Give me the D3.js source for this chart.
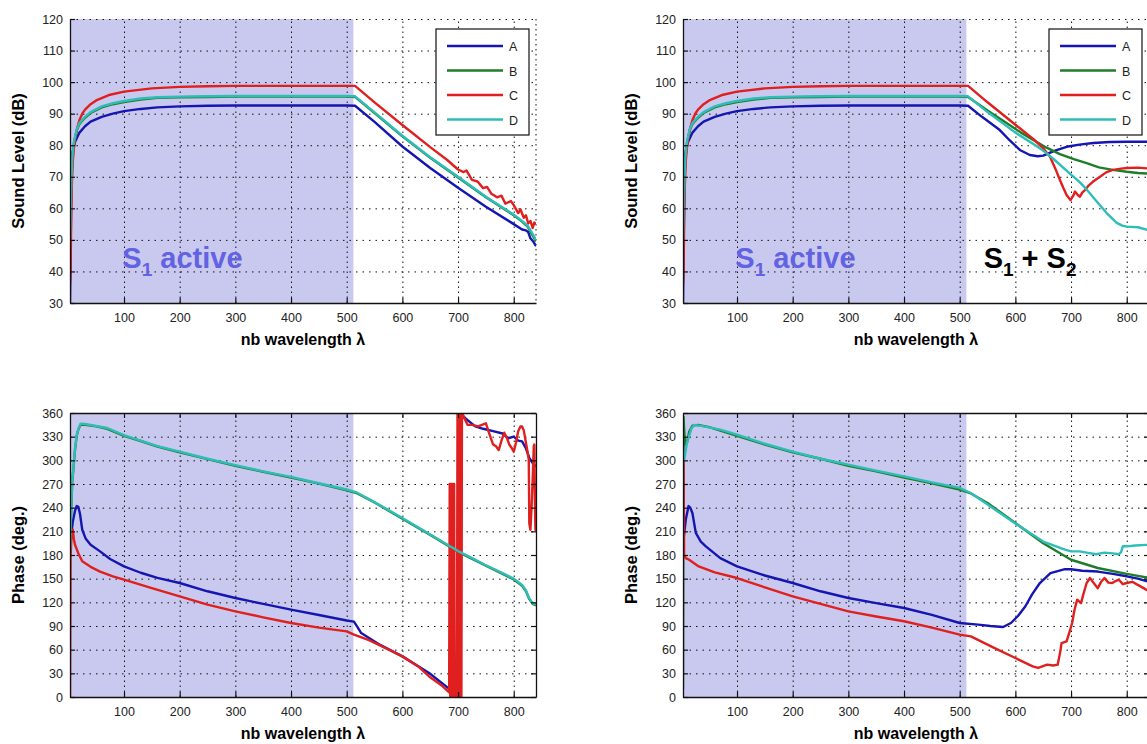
<!DOCTYPE html>
<html>
<head>
<meta charset="utf-8">
<script src="https://cdn.jsdelivr.net/npm/d3@7"></script>
<style>
body{margin:0;background:#fff;}
text{font-family:Arial,"Liberation Sans",sans-serif;}
</style>
</head>
<body>
<div id="chart-area"></div>
<script>
// FOUR PANELS: SOUND LEVEL + PHASE, S1 ALONE vs S1+S2

//---------DATA--------------------
let seriesNames=["A","B","C","D"];
let seriesColors=["#1515b2","#1f7d2a","#e01f1f","#2fbdb9"];
let xTicks=[100,200,300,400,500,600,700,800];
let levelTicks=[30,40,50,60,70,80,90,100,110,120];
let phaseTicks=[0,30,60,90,120,150,180,210,240,270,300,330,360];
let xDomain=[3,840];
let shadeEnd=512;

// sound level, S1 active then switched off
let levelA_1=[[3,30],[4,45],[5,62],[6,72],[8,78],[12,81],[20,84],[30,86],[40,87.5],[60,89],[80,90],[100,90.8],[130,91.5],[160,92],[200,92.3],[250,92.5],[300,92.6],[400,92.6],[500,92.6],[515,92.5],[550,87.4],[600,79.6],[650,72.8],[700,66.5],[750,60.5],[800,55],[815,53.3],[822,53],[826,52.5],[830,50.5],[835,49.5],[840,48]];
let levelB_1=[[3,48],[4,57],[5,65],[7,75],[10,80.5],[15,84.7],[20,86.7],[30,88.7],[40,90.2],[60,92],[80,93],[100,93.7],[130,94.5],[160,95],[200,95.2],[250,95.3],[300,95.4],[500,95.4],[515,95.3],[550,90.2],[600,82.8],[650,76],[700,69.8],[750,63.5],[800,57.8],[815,55.8],[825,54.2],[832,52],[840,49.5]];
let levelC_1=[[3,36],[4,40],[5,55],[6,66],[8,75],[10,79],[12,82],[16,85.5],[20,88],[25,90],[30,91.3],[40,93],[50,94.2],[75,96],[100,97],[150,98],[200,98.5],[250,98.7],[300,98.8],[500,98.8],[515,98.8],[550,93.6],[600,86.4],[650,79.4],[680,75.4],[700,72.3],[710,71.5],[715,72],[725,69],[735,68.5],[745,66.4],[752,66.8],[760,64.6],[770,63.5],[778,64],[785,61.5],[795,62.3],[800,61],[808,58.5],[812,59.7],[818,57],[822,57.8],[826,55.2],[830,56],[834,53.8],[837,55.5],[840,55]];
let levelD_1=[[3,50],[4,58],[5,66],[7,76],[10,81],[15,85],[20,87],[30,89],[40,90.5],[60,92.3],[80,93.3],[100,94],[130,94.8],[160,95.2],[200,95.4],[250,95.5],[300,95.6],[500,95.6],[515,95.5],[550,90.4],[600,83],[650,76.2],[700,70],[750,63.7],[800,58],[815,56],[825,54.5],[832,52.5],[840,50]];

// sound level after S2 switched on (x > 512)
let levelA_12=[[540,89],[572,84.8],[590,81.5],[608,78.5],[626,76.9],[640,76.5],[650,76.7],[670,78.2],[692,79.5],[715,80.2],[740,80.7],[770,81],[800,81.1],[840,81.1]];
let levelB_12=[[550,91],[580,87.5],[610,84],[632,81.7],[655,79.3],[680,77.2],[705,75.6],[728,74.3],[750,73],[775,72.2],[800,71.6],[820,71.2],[840,71]];
let levelC_12=[[550,93.6],[600,86.5],[632,82],[650,79],[662,76.4],[672,72.5],[680,69],[686,66.5],[692,64.2],[699,62.6],[704,64],[707,65.3],[712,64.2],[716,63.7],[720,65],[725,65.8],[732,67.3],[739,68.4],[752,70],[763,71.4],[775,72.2],[790,72.6],[800,72.8],[820,72.9],[840,72.6]];
let levelD_12=[[550,90.5],[600,84],[640,79.5],[656,77.5],[670,75.4],[698,71],[715,68.4],[728,66],[745,62.4],[764,58.5],[782,55.4],[792,54.5],[800,54.2],[820,54],[840,53]];

// phase, S1 only
let phaseA_1=[[4,200],[8,222],[12,236],[15,242],[18,241],[21,232],[25,212],[31,201],[40,193],[57,184.6],[75,175],[100,165.6],[130,157.5],[160,151],[200,144.5],[250,134],[300,125.5],[350,118],[400,110.7],[450,104],[500,97],[513,95.5],[520,88],[526,81],[560,66],[600,51.5],[648,30.4],[686,9.3],[696,3],[699,0],[700,230],[702,360],[704,360],[715,352],[731,343],[745,340],[763,337],[780,334],[790,328],[800,330],[808,325],[815,324],[822,315],[828,303],[834,296.6],[840,292]];
let phaseB_1=[[3,180],[5,232],[7,272],[9,288],[12,313],[15,331],[18,339],[22,345.5],[30,345],[50,343],[70,340],[100,331],[130,324.5],[160,317.5],[200,310],[250,301.5],[300,293],[350,285.5],[400,278],[450,270.5],[500,262],[519,258],[550,246.5],[600,226],[650,205.5],[700,184],[720,177],[750,166.5],[780,156],[800,149],[815,141],[822,134],[828,124],[834,118],[840,116]];
let phaseC_1=[[3,0],[4,178],[6,208],[8,212],[10,200],[12,193],[18,182],[25,172],[40,165],[57,159],[80,153],[100,148.7],[150,138],[200,127.6],[250,117],[300,108.6],[350,101],[400,93.8],[450,88],[500,83.2],[513,79],[540,72],[570,62],[600,51.5],[630,38],[648,26],[670,15],[684,6],[685,270],[686,0],[687,270],[688,0],[689,270],[690,0],[691,270],[692,0],[693,270],[694,0],[698,0],[699,360],[700,0],[701,360],[702,0],[703,360],[704,0],[705,360],[706,0],[707,360],[717,345],[725,345],[736,343],[743,345],[750,347],[757,332],[763,320],[768,318],[773,313],[778,325],[783,335],[788,328],[792,320],[796,316],[800,311],[804,322],[808,337],[812,343],[815,343],[818,338],[821,326],[825,310],[827,301],[828,220],[830,212],[832,240],[834,275],[836,318],[837,320],[838,250],[839,212],[840,212]];
let phaseD_1=[[3,185],[5,237],[7,275],[9,290],[12,315],[15,332],[18,340],[22,346.5],[30,346],[50,343.5],[70,341],[100,332],[130,325],[160,318],[200,311],[250,302],[300,294],[350,286],[400,279],[450,271],[500,263],[519,259],[550,247],[600,227],[650,206],[700,185],[720,178],[750,167],[780,157],[800,150],[815,142],[822,135],[828,125],[834,119],[840,117]];

// phase, S1 + S2
let phaseA_12=[[4,200],[8,225],[13,242],[16,240],[20,233],[26,208],[35,197],[44,191],[70,176],[100,165.6],[150,154],[200,144.5],[250,134],[300,125.5],[350,119],[400,112.8],[450,104],[500,93.8],[533,91.7],[555,90],[578,88.7],[592,93.8],[605,103],[618,115],[630,130],[644,144.5],[663,157],[689,162],[700,162],[720,160],[748,159],[775,156],[800,153],[820,150],[840,146]];
let phaseB_12=[[3,10],[4,355],[5,340],[7,320],[10,322],[14,336],[20,344],[30,345],[50,342],[100,331],[150,320],[200,310],[250,302],[300,293],[350,286],[400,278],[450,271],[500,263],[520,258],[550,246],[600,220.5],[650,195],[700,174],[748,163.5],[800,156],[820,153.5],[840,151]];
let phaseC_12=[[3,310],[4,290],[5,180],[8,176],[14,174],[30,166],[60,158],[100,150.8],[150,139],[200,127.6],[250,118],[300,108.6],[350,102],[400,96],[450,88],[500,79],[520,76.9],[560,63],[600,49.4],[631,38.9],[641,36.8],[657,41],[668,40],[676,41],[680,55],[683,68.4],[692,70.6],[697,82],[702,93.8],[706,110],[711,123.4],[718,119],[722,130],[728,144.5],[734,150.8],[740,145],[748,138],[754,146],[760,150.8],[767,145],[774,144.5],[780,147],[786,148.7],[793,143],[800,144.5],[810,146],[819,142.4],[828,139],[840,134]];
let phaseD_12=[[5,300],[7,309],[10,322],[13.6,330],[18,340],[23,345],[40,343],[70,339],[100,332.5],[150,321],[200,311],[250,302],[300,294.5],[350,287],[400,279.7],[450,272],[500,265],[520,258.6],[550,244],[600,220],[650,197],[689,186.8],[700,184.6],[715,184.6],[728,183],[745,181],[760,183],[775,182],[786,181],[790,184],[793,191],[800,191],[815,192],[840,193]];

function joinAt512(head,tail){
	return head.filter(d=>d[0]<=515).concat(tail);
}

//---------LAYOUT------------------
let width=466;
let height=284;

let panels=[
	{left:70,top:19,domain:[30,120],ticks:levelTicks,label:"Sound Level (dB)",box:false,legend:true,
		series:[levelA_1,levelB_1,levelC_1,levelD_1],notes:["s1"]},
	{left:683,top:19,domain:[30,120],ticks:levelTicks,label:"Sound Level (dB)",box:false,legend:true,
		series:[joinAt512(levelA_1,levelA_12),joinAt512(levelB_1,levelB_12),joinAt512(levelC_1,levelC_12),joinAt512(levelD_1,levelD_12)],notes:["s1","s12"]},
	{left:70,top:413,domain:[0,360],ticks:phaseTicks,label:"Phase (deg.)",box:true,legend:false,
		series:[phaseA_1,phaseB_1,phaseC_1,phaseD_1],notes:[]},
	{left:683,top:413,domain:[0,360],ticks:phaseTicks,label:"Phase (deg.)",box:true,legend:false,
		series:[phaseA_12,phaseB_12,phaseC_12,phaseD_12],notes:[]}
];

let svg=d3.select("#chart-area").append('svg')
	.attr('width',1147)
	.attr('height',744);

svg.append('rect').attr('width',1147).attr('height',744).attr('fill','#fff');

panels.forEach(function(p,i){
	let g=svg.append('g')
		.attr("transform","translate("+p.left+", "+p.top+")");

	let x=d3.scaleLinear().domain(xDomain).range([0,width]);
	let y=d3.scaleLinear().domain(p.domain).range([height,0]);

	g.append('clipPath').attr('id','clip'+i)
		.append('rect').attr('width',width).attr('height',height);

	//----shaded S1 zone----
	g.append('rect')
		.attr('x',x(xDomain[0]))
		.attr('width',x(shadeEnd)-x(xDomain[0]))
		.attr('height',height)
		.attr('fill','#c9c9ef');

	//----dotted grid----
	let xGrid=g.append('g')
		.attr("transform","translate(0,"+height+")")
		.call(d3.axisBottom(x).tickValues(xTicks).tickSize(-height).tickSizeOuter(0).tickFormat(''));
	xGrid.select('.domain').remove();
	xGrid.selectAll('line').attr('stroke','#111').attr('stroke-dasharray','1.5,3.5');

	let yGrid=g.append('g')
		.call(d3.axisLeft(y).tickValues(p.ticks).tickSize(-width).tickSizeOuter(0).tickFormat(''));
	yGrid.select('.domain').remove();
	yGrid.selectAll('line').attr('stroke','#111').attr('stroke-dasharray','1.5,5');

	if(!p.box){
		g.append('line')
			.attr('x1',width).attr('x2',width)
			.attr('y1',0).attr('y2',height)
			.attr('stroke','#111').attr('stroke-dasharray','1.5,3.5');
	}

	//----curves----
	let line=d3.line().x(d=>x(d[0])).y(d=>y(d[1]));
	let lines=g.append('g').attr('clip-path','url(#clip'+i+')');
	p.series.forEach(function(s,k){
		lines.append('path')
			.attr('d',line(s))
			.attr('fill','none')
			.attr('stroke',seriesColors[k])
			.attr('stroke-width',2.4)
			.attr('stroke-linejoin','round');
	});

	//----axes----
	let xAxis=g.append('g')
		.attr("transform","translate(0,"+height+")")
		.call(d3.axisBottom(x).tickValues(xTicks).tickSize(-5).tickSizeOuter(0).tickPadding(10));
	let yAxis=g.append('g')
		.call(d3.axisLeft(y).tickValues(p.ticks).tickSize(-5).tickSizeOuter(0).tickPadding(7));
	let axes=[xAxis,yAxis];
	if(p.box){
		axes.push(g.append('g')
			.call(d3.axisTop(x).tickValues(xTicks).tickSize(-5).tickSizeOuter(0).tickFormat('')));
		axes.push(g.append('g')
			.attr("transform","translate("+width+",0)")
			.call(d3.axisRight(y).tickValues(p.ticks).tickSize(-5).tickSizeOuter(0).tickFormat('')));
	}
	axes.forEach(function(a){
		a.select('.domain').attr('stroke','#111').attr('stroke-width',1.3);
		a.selectAll('line').attr('stroke','#111').attr('stroke-width',1.2);
		a.selectAll('text').attr('font-size','12.5px').attr('fill','#222')
			.attr('font-family','Arial, "Liberation Sans", sans-serif');
	});

	//----labels----
	g.append('text')
		.attr('x',width/2)
		.attr('y',height+42)
		.attr('text-anchor','middle')
		.attr('font-size','16px')
		.attr('font-weight','bold')
		.text('nb wavelength λ');

	g.append('text')
		.attr('transform','rotate(-90)')
		.attr('x',-height/2)
		.attr('y',-46)
		.attr('text-anchor','middle')
		.attr('font-size','16.5px')
		.attr('font-weight','bold')
		.text(p.label);

	//----legend----
	if(p.legend){
		let legend=g.append('g')
			.attr("transform","translate("+(width-100)+", 10)");
		legend.append('rect')
			.attr('width',93)
			.attr('height',106)
			.attr('fill','#fff')
			.attr('stroke','#111')
			.attr('stroke-width',1.2);
		seriesNames.forEach(function(name,k){
			let row=legend.append('g')
				.attr("transform","translate(0, "+(17+k*24.5)+")");
			row.append('line')
				.attr('x1',11).attr('x2',67)
				.attr('stroke',seriesColors[k])
				.attr('stroke-width',2.4);
			row.append('text')
				.attr('x',73)
				.attr('y',5)
				.attr('font-size','12.5px')
				.attr('fill','#222')
				.text(name);
		});
	}

	//----annotations----
	p.notes.forEach(function(n){
		if(n==="s1"){
			let t=g.append('text')
				.attr('x',x(97)).attr('y',y(41))
				.attr('font-size','29px').attr('font-weight','bold')
				.attr('fill','#6262e2');
			t.append('tspan').text('S');
			t.append('tspan').attr('font-size','19px').attr('dy',8).text('1');
			t.append('tspan').attr('dy',-8).text(' active');
		}
		else{
			let t=g.append('text')
				.attr('x',x(543)).attr('y',y(41))
				.attr('font-size','29px').attr('font-weight','bold')
				.attr('fill','#000');
			t.append('tspan').text('S');
			t.append('tspan').attr('font-size','19px').attr('dy',8).text('1');
			t.append('tspan').attr('dy',-8).text(' + S');
			t.append('tspan').attr('font-size','19px').attr('dy',8).text('2');
		}
	});
});
</script>
</body>
</html>
